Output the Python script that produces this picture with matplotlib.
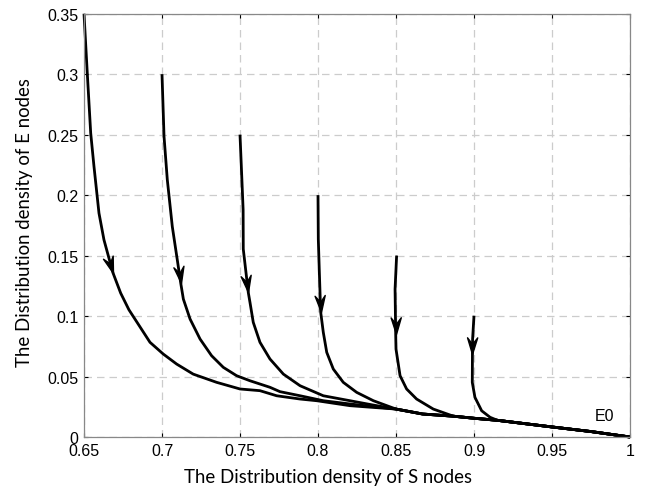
import numpy as np
import matplotlib
matplotlib.use("Agg")
import matplotlib.pyplot as plt
from matplotlib.path import Path
from matplotlib.markers import MarkerStyle
from matplotlib.transforms import Affine2D

# Shared tail toward the equilibrium E0 = (1, 0)
tail_x = [0.85, 0.8671, 0.8868, 0.90, 0.915, 0.95, 0.975, 1.0]
tail_y = [0.0231, 0.019, 0.0172, 0.0155, 0.0138, 0.0083, 0.0045, 0.0]

c1_x = [0.65, 0.6521, 0.6543, 0.6564, 0.6596, 0.6628, 0.6685, 0.6735, 0.6788, 0.6923, 0.7008,
        0.7094, 0.720, 0.735, 0.75, 0.7628, 0.7735, 0.7885, 0.7992, 0.8205, 0.835]
c1_y = [0.35, 0.3008, 0.2512, 0.2237, 0.1851, 0.163, 0.136, 0.119, 0.1052, 0.0783, 0.0686,
        0.0603, 0.052, 0.0452, 0.0397, 0.0383, 0.0341, 0.0314, 0.030, 0.0259, 0.0245]

c2_x = [0.70, 0.7013, 0.7034, 0.7066, 0.7098, 0.712, 0.7137, 0.718, 0.7244, 0.7318, 0.7393,
        0.7478, 0.7564, 0.7692, 0.7756, 0.7885, 0.8034, 0.8205, 0.835]
c2_y = [0.30, 0.2485, 0.2127, 0.174, 0.1465, 0.1273, 0.114, 0.0975, 0.081, 0.0672, 0.0576,
        0.0507, 0.0465, 0.0411, 0.0375, 0.0341, 0.030, 0.0273, 0.0252]

c3_x = [0.75, 0.7513, 0.752, 0.7521, 0.7553, 0.7564, 0.7585, 0.7628, 0.7692, 0.7778, 0.7885,
        0.8034, 0.8205, 0.835]
c3_y = [0.25, 0.21, 0.188, 0.1554, 0.1196, 0.1113, 0.0948, 0.0783, 0.0645, 0.052, 0.0424,
        0.0341, 0.030, 0.0265]

c4_x = [0.80, 0.8002, 0.8008, 0.8017, 0.8034, 0.8056, 0.8098, 0.8162, 0.8248, 0.8355]
c4_y = [0.20, 0.1636, 0.1388, 0.1035, 0.0865, 0.070, 0.0562, 0.0452, 0.0369, 0.030]

c5_x = [0.8504, 0.8494, 0.8498, 0.85, 0.8526, 0.8568, 0.8632, 0.8739]
c5_y = [0.15, 0.1223, 0.0851, 0.0727, 0.0507, 0.0397, 0.0314, 0.0231]

c6_x = [0.90, 0.8991, 0.899, 0.8989, 0.9006, 0.9049, 0.9103]
c6_y = [0.1003, 0.081, 0.0686, 0.0452, 0.0328, 0.0217, 0.0163]

curves = [(c1_x, c1_y), (c2_x, c2_y), (c3_x, c3_y), (c4_x, c4_y), (c5_x, c5_y), (c6_x, c6_y)]

# arrow tip positions (x, y)
arrow_x = [0.6685, 0.7120, 0.7553, 0.8017, 0.8498, 0.8990]
arrow_y = [0.136, 0.1273, 0.1196, 0.1035, 0.0851, 0.0686]

x_ticks = [0.65, 0.7, 0.75, 0.8, 0.85, 0.9, 0.95, 1.0]
x_tick_labels = ["0.65", "0.7", "0.75", "0.8", "0.85", "0.9", "0.95", "1"]
y_ticks = [0, 0.05, 0.1, 0.15, 0.2, 0.25, 0.3, 0.35]
y_tick_labels = ["0", "0.05", "0.1", "0.15", "0.2", "0.25", "0.3", "0.35"]

fig = plt.figure(figsize=(6.47, 4.89), dpi=100)
ax = fig.add_axes([84 / 647, 1 - 438 / 489, (630 - 84) / 647, (438 - 14.7) / 489])

ax.set_xlim(0.65, 1.0)
ax.set_ylim(0, 0.35)
ax.set_xticks(x_ticks)
ax.set_xticklabels(x_tick_labels)
ax.set_yticks(y_ticks)
ax.set_yticklabels(y_tick_labels)
ax.grid(True, color="#cccccc", linestyle=(0, (6, 4)), linewidth=0.9)
ax.set_axisbelow(True)
for s in ax.spines.values():
    s.set_color("#888888")
    s.set_linewidth(0.9)
ax.tick_params(direction="in", length=3, width=0.8, color="black",
               top=True, right=True, labelsize=11.5, pad=4)
for lab in ax.get_xticklabels() + ax.get_yticklabels():
    lab.set_fontfamily("Liberation Sans")

for cx, cy in curves:
    xs = list(cx)
    ys = list(cy)
    # join to shared tail
    for tx, ty in zip(tail_x, tail_y):
        if tx > xs[-1]:
            xs.append(tx)
            ys.append(ty)
    ax.plot(xs, ys, color="black", linewidth=2.0, solid_joinstyle="round",
            solid_capstyle="butt", clip_on=False)

# arrowheads (stealth shape, tip at origin pointing down)
arrow_path = Path([(0, 0), (-0.55, 1.8), (0, 1.1), (0.55, 1.8), (0, 0)],
                  [Path.MOVETO, Path.LINETO, Path.LINETO, Path.LINETO, Path.CLOSEPOLY])
fig.canvas.draw()
for (cx, cy), axx, ayy in zip(curves, arrow_x, arrow_y):
    cyr = np.array(cy)[::-1]
    cxr = np.array(cx)[::-1]
    xa = np.interp(ayy + 0.01, cyr, cxr)
    xb = np.interp(ayy - 0.01, cyr, cxr)
    p1 = ax.transData.transform((xa, ayy + 0.01))
    p2 = ax.transData.transform((xb, ayy - 0.01))
    d = p2 - p1
    theta = np.degrees(np.arctan2(d[1], d[0]))
    ms = MarkerStyle(arrow_path, transform=Affine2D().rotate_deg(theta + 90))
    ax.plot([axx], [ayy], marker=ms, markersize=24, color="black", linestyle="none")

ax.text(0.9775, 0.018, "E0", fontsize=11.5, family="Liberation Sans", va="center", ha="left")

ax.set_xlabel("The Distribution density of S nodes", fontsize=13.4, family="Lato")
ax.xaxis.label.set_va("baseline")
ax.xaxis.set_label_coords(0.447, -0.106)
ax.set_ylabel("The Distribution density of E nodes", fontsize=13.4, family="Lato")
ax.yaxis.set_label_coords(-0.0934, 0.51)

fig.savefig("out.png", dpi=100)
